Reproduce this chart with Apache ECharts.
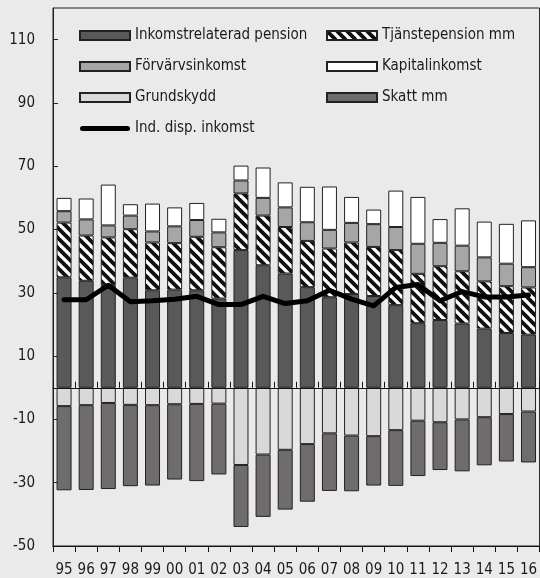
<!DOCTYPE html>
<html><head><meta charset="utf-8">
<script src="https://cdn.jsdelivr.net/npm/echarts@6/dist/echarts.min.js"></script>
<style>html,body{margin:0;padding:0;background:#eaeaea;}#c{width:540px;height:578px;}</style>
</head><body><div id="c"></div>
<script>
const years = ['95','96','97','98','99','00','01','02','03','04','05','06','07','08','09','10','11','12','13','14','15','16'];
const inkomstrelaterad = [34.9,33.8,32.5,34.8,30.8,31.0,30.8,28.2,43.5,38.7,36.1,31.8,28.6,29.6,29.0,26.1,20.4,21.4,20.3,18.7,17.3,16.8];
const tjanstepension = [17.3,14.3,15.0,15.3,15.1,14.7,16.9,16.2,17.9,15.7,14.7,14.6,15.4,16.3,15.5,17.4,15.6,17.0,16.5,14.9,14.8,14.9];
const forvarvsinkomst = [3.6,5.1,3.8,4.3,3.5,5.3,5.3,4.7,4.1,5.6,6.2,5.9,5.9,6.2,7.2,7.3,9.5,7.4,8.1,7.6,7.1,6.4];
const kapitalinkomst = [4.2,6.6,12.9,3.6,8.8,6.0,5.4,4.3,4.7,9.6,7.9,11.2,13.7,8.2,4.6,11.5,14.8,7.5,11.8,11.3,12.6,14.8];
const grundskydd = [-5.8,-5.5,-4.8,-5.4,-5.5,-5.2,-5.1,-5.0,-24.4,-21.1,-19.6,-17.8,-14.4,-15.1,-15.3,-13.4,-10.4,-10.9,-10.0,-9.3,-8.3,-7.5];
const skatt = [-26.6,-26.8,-27.2,-25.7,-25.4,-23.8,-24.4,-22.4,-19.6,-19.7,-18.9,-18.2,-18.2,-17.6,-15.6,-17.6,-17.5,-15.1,-16.4,-15.2,-15.0,-16.1];
const dispInkomst = [27.8,27.8,32.4,27.2,27.5,28.0,28.9,26.3,26.3,28.9,26.6,27.5,30.8,28.0,25.9,31.7,32.6,27.5,30.4,28.7,28.7,29.3];

const FONT = "'Liberation Sans Narrow','DejaVu Sans Condensed',sans-serif";
const FS = 15;
function hatch(){
  const c=document.createElement('canvas'); c.width=10; c.height=10;
  const x=c.getContext('2d');
  x.fillStyle='#fff'; x.fillRect(0,0,10,10);
  x.strokeStyle='#111'; x.lineWidth=3.8;
  for(let k=-1;k<=1;k++){x.beginPath();x.moveTo(k*10-5,-5);x.lineTo(k*10+15,15);x.stroke();}
  return c;
}
const chart = echarts.init(document.getElementById('c'), null, {renderer:'canvas'});
function bar(name, data, color){
  return {name, type:'bar', stack:'a', data, barWidth:15, xAxisIndex:0,
    itemStyle:{color, borderColor:'#222', borderWidth:1}};
}
const lineIcon = 'path://M2.5,0 H47.5 A2.5,2.5 0 0 1 47.5,5 H2.5 A2.5,2.5 0 0 1 2.5,0 Z';
const xCommon = {type:'category', data:years, gridIndex:0, boundaryGap:true};
const legendCommon = {top:28, orient:'vertical', padding:0, itemWidth:50, itemHeight:9, itemGap:16, icon:'rect',
  textStyle:{fontFamily:FONT, fontSize:FS, color:'#1a1a1a'}};
chart.setOption({
  backgroundColor:'#eaeaea',
  animation:false,
  textStyle:{fontFamily:FONT},
  grid:{left:53, top:8, width:490, height:538, show:true, borderColor:'#222', borderWidth:1, backgroundColor:'transparent'},
  legend:[
    Object.assign({left:79}, legendCommon, {
     data:['Inkomstrelaterad pension','Förvärvsinkomst','Grundskydd',
       {name:'Ind. disp. inkomst', icon:lineIcon, itemStyle:{color:'#000', borderWidth:0}}]}),
    Object.assign({left:326}, legendCommon, {
     data:['Tjänstepension mm','Kapitalinkomst','Skatt mm']})
  ],
  xAxis:[
    Object.assign({}, xCommon, {position:'bottom', axisLine:{show:true, onZero:false, lineStyle:{color:'#222'}},
      axisTick:{show:false}, axisLabel:{fontFamily:FONT, fontSize:FS, color:'#1a1a1a', margin:17, interval:0}}),
    Object.assign({}, xCommon, {position:'bottom', z:5, axisLine:{show:true, onZero:true, lineStyle:{color:'#111'}},
      axisTick:{show:true, inside:true, length:6, lineStyle:{color:'#111'}}, axisLabel:{show:false}}),
    Object.assign({}, xCommon, {position:'bottom', z:5, axisLine:{show:true, onZero:true, lineStyle:{color:'#111'}},
      axisTick:{show:true, inside:false, length:6, lineStyle:{color:'#111'}}, axisLabel:{show:false}})
  ],
  yAxis:{type:'value', min:-50, max:120, interval:20, splitLine:{show:false},
    axisLine:{show:true, lineStyle:{color:'#222'}},
    axisTick:{show:true, inside:true, length:5, lineStyle:{color:'#222'}},
    axisLabel:{fontFamily:FONT, fontSize:FS, color:'#1a1a1a', margin:18, showMaxLabel:false}},
  series:[
    bar('Inkomstrelaterad pension', inkomstrelaterad, '#595959'),
    bar('Tjänstepension mm', tjanstepension, {image:hatch(), repeat:'repeat'}),
    bar('Förvärvsinkomst', forvarvsinkomst, '#a6a6a6'),
    bar('Kapitalinkomst', kapitalinkomst, '#ffffff'),
    bar('Grundskydd', grundskydd, '#d9d9d9'),
    bar('Skatt mm', skatt, '#706c6c'),
    {name:'Ind. disp. inkomst', type:'line', data:dispInkomst, xAxisIndex:0, z:10,
     symbol:'none', showSymbol:false, itemStyle:{color:'#000'},
     lineStyle:{color:'#000', width:5, cap:'round', join:'round'}}
  ]
});
</script></body></html>
